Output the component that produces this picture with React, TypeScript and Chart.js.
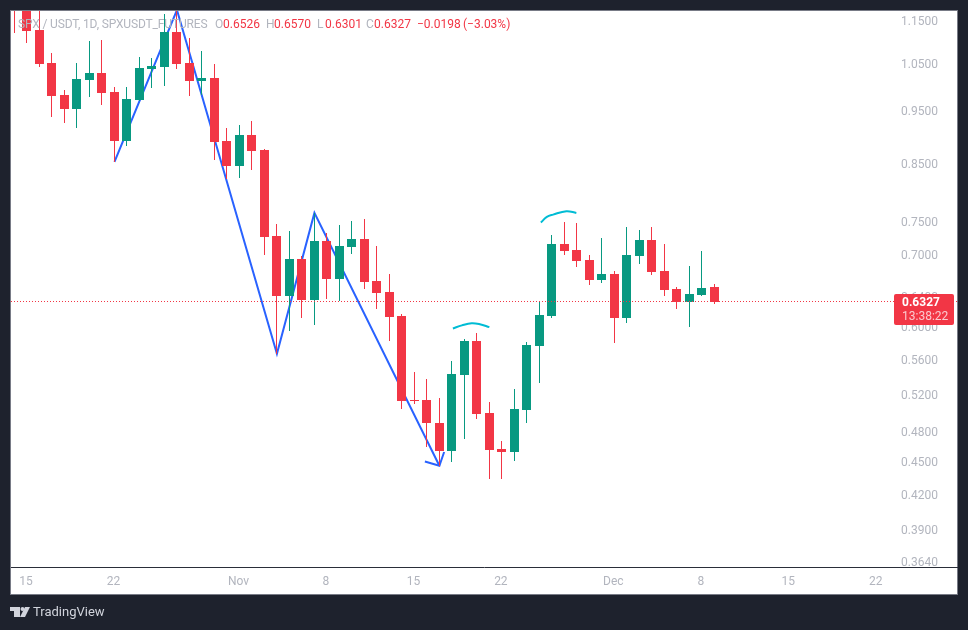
import React, { useEffect, useRef } from "react";
import { Chart, registerables } from "chart.js";

Chart.register(...registerables);

const opens = [1.23, 1.185, 1.1282, 1.0518, 0.9826, 0.9544, 1.0144, 1.0296, 0.9889, 0.8916, 0.9722, 1.0384, 1.0428, 1.1234, 1.0518, 1.0122, 1.0187, 0.891, 0.8448, 0.9024, 0.8741, 0.728, 0.6408, 0.6933, 0.6354, 0.7204, 0.6644, 0.7112, 0.7234, 0.6616, 0.6463, 0.6141, 0.5137, 0.5137, 0.4892, 0.4609, 0.5418, 0.5824, 0.4998, 0.4629, 0.46, 0.5029, 0.5762, 0.6141, 0.7158, 0.7067, 0.6918, 0.663, 0.6715, 0.6115, 0.6976, 0.7219, 0.6759, 0.6505, 0.6327, 0.6422, 0.6526];
const highs = [1.24, 1.25, 1.18, 1.0743, 0.9931, 1.0518, 1.1021, 1.1044, 0.9995, 0.9995, 1.0653, 1.063, 1.1673, 1.1772, 1.109, 1.0789, 1.0495, 0.916, 0.922, 0.9297, 0.876, 0.7469, 0.7358, 0.6978, 0.7645, 0.7327, 0.7453, 0.7516, 0.7548, 0.7127, 0.6715, 0.6168, 0.5452, 0.5371, 0.5159, 0.5581, 0.5849, 0.5923, 0.5115, 0.4708, 0.5258, 0.5811, 0.6327, 0.7296, 0.75, 0.7484, 0.6991, 0.725, 0.6759, 0.7421, 0.7374, 0.7421, 0.7158, 0.6532, 0.6831, 0.7052, 0.657];
const lows = [1.121, 1.0973, 1.0435, 0.9375, 0.9257, 0.916, 0.9784, 0.9619, 0.852, 0.8815, 0.9701, 0.9974, 1.0016, 1.0384, 0.9805, 0.9826, 0.8557, 0.8218, 0.8236, 0.8377, 0.6991, 0.5665, 0.5948, 0.6115, 0.6024, 0.6368, 0.634, 0.7007, 0.6505, 0.6233, 0.5824, 0.504, 0.5093, 0.4648, 0.4464, 0.4503, 0.4728, 0.4933, 0.4342, 0.4342, 0.4512, 0.4892, 0.5326, 0.6115, 0.6991, 0.6816, 0.656, 0.6588, 0.5799, 0.605, 0.686, 0.6702, 0.6408, 0.6233, 0.5999, 0.6408, 0.6301];
const closes = [1.185, 1.1265, 1.0501, 0.9811, 0.9544, 1.0166, 1.0296, 0.9873, 0.8916, 0.9743, 1.0407, 1.045, 1.1234, 1.0501, 1.0122, 1.0187, 0.8891, 0.8448, 0.9024, 0.8722, 0.727, 0.6408, 0.6933, 0.6354, 0.7204, 0.6644, 0.7127, 0.7234, 0.6602, 0.645, 0.6128, 0.5126, 0.5126, 0.4892, 0.4609, 0.5429, 0.5824, 0.4987, 0.4619, 0.46, 0.504, 0.5774, 0.6154, 0.7158, 0.7052, 0.6904, 0.663, 0.6715, 0.6115, 0.6991, 0.7219, 0.6744, 0.6491, 0.6327, 0.6436, 0.6519, 0.6327];

const priceTicks = [1.15, 1.05, 0.95, 0.85, 0.75, 0.7, 0.64, 0.6, 0.56, 0.52, 0.48, 0.45, 0.42, 0.39, 0.364];
const dayTicks = [1, 8, 18, 25, 32, 39, 48, 55, 62, 69];
const dayLabels = ["15", "22", "Nov", "8", "15", "22", "Dec", "8", "15", "22"];

const zigzagDays = [8, 13, 21, 24, 34];
const zigzagPrices = [0.852, 1.1772, 0.5665, 0.7645, 0.4464];
const arrowDays = [32.84, 34, 34.38];
const arrowPrices = [0.4505, 0.4464, 0.4597];
const arcADays = [35.08, 35.8, 36.58, 37.24, 38];
const arcAPrices = [0.5978, 0.6018, 0.6046, 0.6033, 0.5995];
const arcBDays = [42.12, 42.6, 43.1, 44.16, 44.96];
const arcBPrices = [0.7489, 0.758, 0.7617, 0.7673, 0.7645];

const lastPrice = 0.6327;
const priceLineDays = [-0.28, 75.42];
const priceLinePrices = [lastPrice, lastPrice];
const countdown = "13:38:22";
const symbolText = "SPX / USDT, 1D, SPXUSDT_FUTURES";
const brandText = "TradingView";

const RED = "#f23645";
const GREEN = "#089981";
const GREY = "#b2b5be";
const PAGE = "#1e222d";
const FONT = "Roboto, sans-serif";

const pts = (xs: number[], ys: number[]) => xs.map((x, i) => ({ x, y: ys[i] }));
const candleColor = opens.map((o, i) => (closes[i] >= o ? GREEN : RED));

const framePlugin = {
  id: "frame",
  afterDatasetsUpdate(chart: any) {
    // Snap what the scales computed to whole device pixels, as the original renderer does.
    chart.data.datasets.forEach((ds: any, i: number) => {
      const meta = chart.getDatasetMeta(i);
      if (ds.type === "bar") {
        meta.data.forEach((el: any) => {
          el.x = Math.floor(el.x) + 0.5;
          const top = Math.round(el.y);
          const bottom = Math.round(el.base);
          el.y = top;
          el.base = bottom === top ? top + 1 : bottom;
        });
      } else if (ds.snap) {
        meta.data.forEach((el: any) => {
          el.x = Math.round(el.x);
          el.y = Math.floor(el.y) + 0.5;
        });
      }
    });
  },
  beforeDraw(chart: any) {
    const { ctx, width, height } = chart;
    ctx.save();
    ctx.fillStyle = PAGE;
    ctx.fillRect(0, 0, width, height);
    ctx.fillStyle = "#787b86";
    ctx.fillRect(10, 10, 948, 585);
    ctx.fillStyle = "#ffffff";
    ctx.fillRect(11, 11, 946, 583);
    ctx.restore();
  },
  afterDraw(chart: any) {
    const { ctx } = chart;
    ctx.save();
    ctx.textBaseline = "middle";
    ctx.textAlign = "left";
    ctx.font = `12px ${FONT}`;
    ctx.letterSpacing = "-0.15px";
    ctx.fillStyle = GREY;
    ctx.fillText(symbolText, 18, 25);
    ctx.letterSpacing = "0px";
    const legend: [string, number, string][] = [
      ["O", 215, GREY],
      ["0.6526", 223, RED],
      ["H", 266, GREY],
      ["0.6570", 274, RED],
      ["L", 317, GREY],
      ["0.6301", 325, RED],
      ["C", 366, GREY],
      ["0.6327", 374, RED],
      ["\u22120.0198", 417, RED],
      ["(\u22123.03%)", 463, RED],
    ];
    legend.forEach(([t, x, c]) => {
      ctx.fillStyle = c;
      ctx.fillText(t, x, 25);
    });

    const yLast = chart.scales.y.getPixelForValue(lastPrice);
    ctx.fillStyle = RED;
    ctx.beginPath();
    ctx.roundRect(894, Math.round(yLast) - 8, 60, 31, 2);
    ctx.fill();
    ctx.font = `bold 12px ${FONT}`;
    ctx.fillStyle = "#ffffff";
    ctx.fillText(lastPrice.toFixed(4), 902, Math.round(yLast) + 1);
    ctx.font = `12px ${FONT}`;
    ctx.fillStyle = "#fbc9ce";
    ctx.fillText(countdown, 902, Math.round(yLast) + 15);

    ctx.fillStyle = "#d1d4dc";
    ctx.fillRect(10, 607, 10, 4);
    ctx.fillRect(14, 607, 6, 10);
    ctx.beginPath();
    ctx.arc(22.5, 609, 2, 0, Math.PI * 2);
    ctx.fill();
    ctx.beginPath();
    ctx.moveTo(25, 607);
    ctx.lineTo(30, 607);
    ctx.lineTo(25, 617);
    ctx.lineTo(20, 617);
    ctx.closePath();
    ctx.fill();
    ctx.font = `13px ${FONT}`;
    ctx.fillStyle = "#d1d4dc";
    ctx.fillText(brandText, 33, 612.5);
    ctx.restore();
  },
};

export default function App() {
  const ref = useRef<HTMLCanvasElement>(null);
  useEffect(() => {
    if (!ref.current) return;
    const chart = new Chart(ref.current, {
      type: "bar",
      plugins: [framePlugin],
      data: {
        datasets: [
          {
            type: "line",
            snap: true,
            data: pts(priceLineDays, priceLinePrices),
            borderColor: RED,
            borderWidth: 1,
            borderDash: [1, 2],
            pointRadius: 0,
            order: 0,
          },
          {
            type: "bar",
            data: opens.map((o, i) => ({ x: i, y: [Math.min(o, closes[i]), Math.max(o, closes[i])] })),
            backgroundColor: candleColor,
            barThickness: 9,
            inflateAmount: 0,
            order: 1,
          },
          {
            type: "bar",
            data: lows.map((l, i) => ({ x: i, y: [l, highs[i]] })),
            backgroundColor: candleColor,
            barThickness: 1,
            inflateAmount: 0,
            order: 2,
          },
          { type: "line", data: pts(zigzagDays, zigzagPrices), borderColor: "#2962ff", borderWidth: 2, pointRadius: 0, order: 3 },
          { type: "line", data: pts(arrowDays, arrowPrices), borderColor: "#2962ff", borderWidth: 2, pointRadius: 0, order: 3 },
          { type: "line", data: pts(arcADays, arcAPrices), borderColor: "#00bcd4", borderWidth: 2, pointRadius: 0, tension: 0.4, order: 3 },
          { type: "line", data: pts(arcBDays, arcBPrices), borderColor: "#00bcd4", borderWidth: 2, pointRadius: 0, tension: 0.4, order: 3 },
        ],
      } as any,
      options: {
        animation: false,
        responsive: false,
        layout: { padding: { left: 11, right: 11, top: 11, bottom: 36 } },
        datasets: { bar: { grouped: false } },
        plugins: { legend: { display: false }, tooltip: { enabled: false } },
        scales: {
          x: {
            type: "linear",
            offset: false,
            min: -0.28,
            max: 75.42,
            grid: { display: false, drawTicks: false, tickLength: 0 },
            border: { display: true, color: "#2a2e39", width: 1 },
            afterFit(s: any) {
              s.height = 27;
            },
            afterBuildTicks(s: any) {
              s.ticks = dayTicks.map((value) => ({ value }));
            },
            ticks: {
              autoSkip: false,
              maxRotation: 0,
              padding: 8,
              labelOffset: -1,
              color: GREY,
              font: { family: FONT, size: 12 },
              callback: (v: any) => dayLabels[dayTicks.indexOf(Number(v))] ?? "",
            },
          },
          y: {
            type: "logarithmic",
            position: "right",
            bounds: "data",
            min: 0.3599,
            max: 1.1747,
            grid: { display: false },
            border: { display: false },
            afterFit(s: any) {
              s.width = 0;
            },
            afterBuildTicks(s: any) {
              s.ticks = priceTicks.map((value) => ({ value }));
            },
            ticks: {
              mirror: true,
              padding: -19,
              labelOffset: 1.5,
              autoSkip: false,
              color: GREY,
              font: { family: FONT, size: 12 },
              callback: (v: any) => Number(v).toFixed(4),
            },
          },
        },
      } as any,
    });
    return () => chart.destroy();
  }, []);
  return (
    <div style={{ position: "absolute", left: 0, top: 0, width: 968, height: 630 }}>
      <canvas ref={ref} width={968} height={630} style={{ display: "block" }} />
    </div>
  );
}
